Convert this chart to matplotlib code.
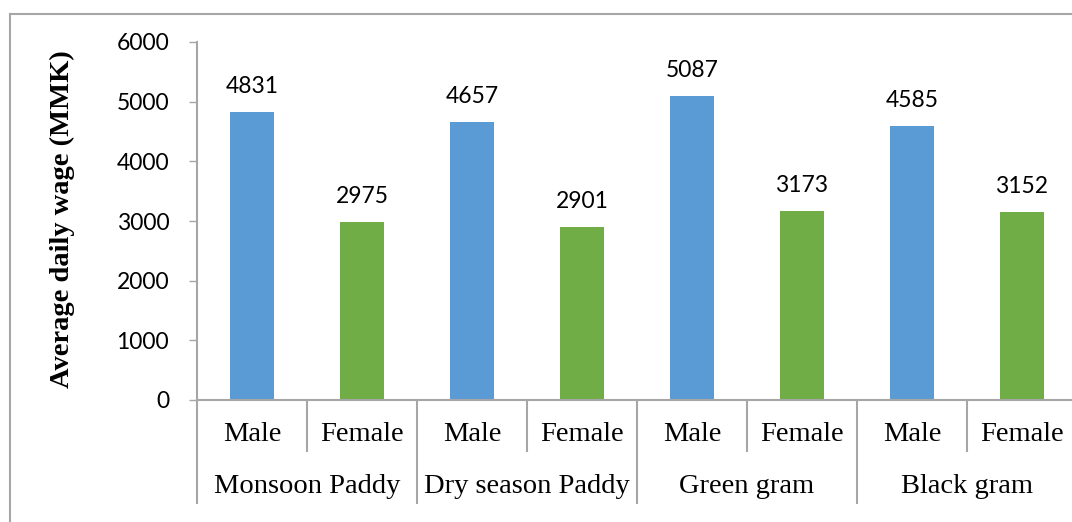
import numpy as np
import matplotlib
matplotlib.use("Agg")
import matplotlib.pyplot as plt
from matplotlib.lines import Line2D

# data
crops = ['Monsoon Paddy', 'Dry season Paddy', 'Green gram', 'Black gram']
sexes = ['Male', 'Female']
wages = [4831, 2975, 4657, 2901, 5087, 3173, 4585, 3152]

blue = '#5B9BD5'
green = '#70AD47'
gray = '#A6A6A6'
W, H = 1072, 522

fig = plt.figure(figsize=(W / 100, H / 100), dpi=100)
ax = fig.add_axes([197 / W, 122 / H, 880 / W, 358 / H])

x = np.arange(len(wages))
colors = [blue if i % 2 == 0 else green for i in range(len(wages))]
ax.bar(x, wages, width=0.4, color=colors, zorder=2)

for xi, v in zip(x, wages):
    ax.annotate(str(v), (xi, v), xytext=(0, 13.7), textcoords='offset points',
                ha='center', va='baseline', fontsize=16.5, family='Lato')

ax.set_xlim(-0.5, len(wages) - 0.5)
ax.set_ylim(0, 6000)
ax.set_yticks(np.arange(0, 6001, 1000))
ax.tick_params(axis='y', length=6, width=1, color=gray, pad=14, labelsize=16.5)
for lab in ax.get_yticklabels():
    lab.set_family('Lato')
ax.set_xticks([])
for s in ['top', 'right']:
    ax.spines[s].set_visible(False)
for s in ['left', 'bottom']:
    ax.spines[s].set_color(gray)
    ax.spines[s].set_linewidth(1.5)

trans = ax.get_xaxis_transform()
# sub-category separators and labels
for i in range(len(wages)):
    ax.text(i, -0.095, sexes[i % 2], transform=trans, ha='center', va='center',
            fontsize=20.5, family='Liberation Serif')
    if i % 2 == 1:
        ax.add_line(Line2D([i - 0.5, i - 0.5], [0, -0.1425], transform=trans,
                           color=gray, lw=1.5, clip_on=False))
# group separators and labels
for g, name in enumerate(crops):
    ax.text(2 * g + 0.5, -0.242, name, transform=trans, ha='center', va='center',
            fontsize=20.5, family='Liberation Serif')
for g in range(len(crops) + 1):
    xb = 2 * g - 0.5
    ax.add_line(Line2D([xb, xb], [0, -0.2877], transform=trans,
                       color=gray, lw=1.5, clip_on=False))

fig.text(62 / W, 1 - 219 / H, 'Average daily wage (MMK)', rotation=90,
         ha='center', va='center', fontsize=20.5, fontweight='bold',
         family='Liberation Serif')

# chart border (cropped on right and bottom)
fig.add_artist(Line2D([10 / W, 1], [1 - 14 / H, 1 - 14 / H], transform=fig.transFigure,
                      color=gray, lw=1.5))
fig.add_artist(Line2D([10 / W, 10 / W], [0, 1 - 14 / H], transform=fig.transFigure,
                      color=gray, lw=1.5))

fig.savefig('out.png', dpi=100)
